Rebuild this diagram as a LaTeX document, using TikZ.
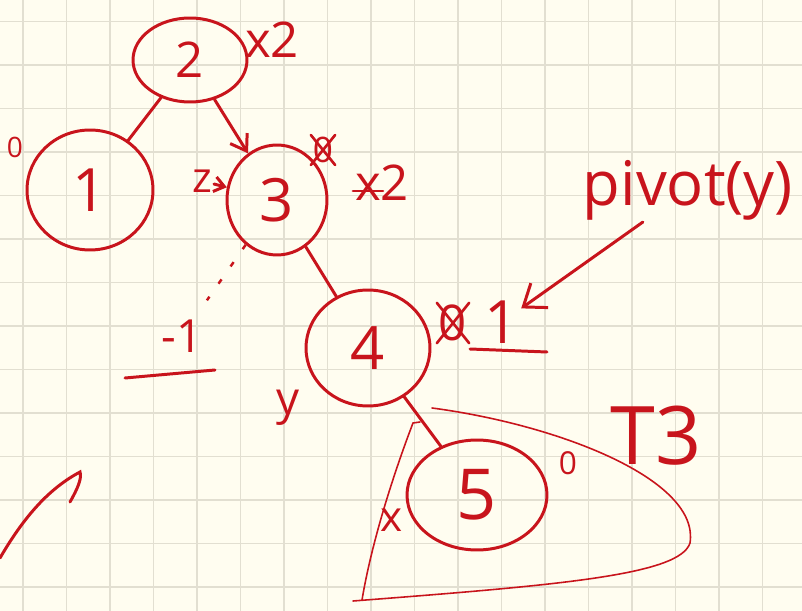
\documentclass[tikz,border=0pt]{standalone}
\usepackage{fontspec}
\setmainfont{Open Sans}
\usetikzlibrary{arrows.meta,shapes.geometric,calc}
\definecolor{ink}{HTML}{C8141C}
\definecolor{paper}{HTML}{FFFDF0}
\definecolor{gridline}{HTML}{E2DFD1}
\tikzset{
    every node/.style={text=ink},
    treevar/.style={ellipse,draw=ink,line width=1.7pt,inner sep=0pt,font=\fontsize{34}{34}\selectfont},
    scrawl/.style={inner sep=1pt,font=\fontsize{24}{24}\selectfont},
    inkedge/.style={draw=ink,line width=1.7pt,line cap=round},
    thinink/.style={draw=ink,line width=0.9pt,line cap=round},
    strike/.style={draw=ink,line width=1.5pt,line cap=round}
}
\begin{document}
\begin{tikzpicture}[x=0.02cm,y=-0.02cm]
\fill[paper] (0,0) rectangle (802,611);
\useasboundingbox (0,0) rectangle (802,611);
\foreach \k in {0,...,17}{
    \draw[gridline,line width=0.8pt] (23+43.5*\k,0) -- (23+43.5*\k,611);
}
\foreach \k in {0,...,13}{
    \draw[gridline,line width=0.8pt] (0,21.5+43.5*\k) -- (802,21.5+43.5*\k);
}
\node[treevar,minimum width=2.28cm,minimum height=1.68cm,font=\fontsize{28}{28}\selectfont] (n2) at (190,60) {2};
\node[treevar,minimum width=2.52cm,minimum height=2.4cm] (n1) at (90,190) {1};
\node[treevar,minimum width=2.0cm,minimum height=2.2cm] (n3) at (277,200) {3};
\node[treevar,minimum width=2.48cm,minimum height=2.32cm] (n4) at (368,348) {4};
\node[treevar,minimum width=2.8cm,minimum height=2.2cm,font=\fontsize{40}{40}\selectfont] (n5) at (477,495) {5};
\node[scrawl,font=\fontsize{28}{28}\selectfont] (w2) at (272,40) {x2};
\node[scrawl,font=\fontsize{16}{16}\selectfont] (w1) at (15,147) {0};
\node[scrawl,font=\fontsize{24}{24}\selectfont] (z3) at (202,181) {z};
\node[scrawl,font=\fontsize{20}{20}\selectfont] (o3) at (323,150) {0};
\node[scrawl,font=\fontsize{28}{28}\selectfont] (w3) at (382,183) {x2};
\node[scrawl,font=\fontsize{26}{26}\selectfont] (m1) at (182,336) {-1};
\node[scrawl,font=\fontsize{28}{28}\selectfont] (o4) at (453,323) {0};
\node[scrawl,font=\fontsize{34}{34}\selectfont] (w4) at (502,322) {1};
\node[scrawl,font=\fontsize{26}{26}\selectfont] (y4) at (288,408) {y};
\node[scrawl,font=\fontsize{24}{24}\selectfont] (x5) at (392,520) {x};
\node[scrawl,font=\fontsize{18}{18}\selectfont] (w5) at (568,463) {0};
\node[scrawl,font=\fontsize{46}{46}\selectfont] (t3) at (656,436) {T3};
\node[scrawl,font=\fontsize{35}{35}\selectfont] (pv) at (688,190) {pivot(y)};
\draw[inkedge] (n2) -- (n1);
\draw[inkedge,-{Straight Barb[length=3mm,width=4mm]}] (n2) -- (n3);
\draw[inkedge,-{Straight Barb[length=2mm,width=3mm]}] (z3) -- (n3);
\draw[inkedge] (n3) -- (n4);
\draw[inkedge] (n4) -- (n5);
\draw[ink,line width=1.4pt,dash pattern=on 3pt off 9pt,shorten >=12pt] (n3) -- (m1);
\draw[inkedge,-{Straight Barb[length=4mm,width=6mm]}] (pv) -- (w4);
\draw[strike] (o3.north west) -- (o3.south east);
\draw[strike] (o3.north east) -- (o3.south west);
\draw[strike] (o4.north west) -- (o4.south east);
\draw[strike] (o4.north east) -- (o4.south west);
\draw[strike] ($(w3.west)+(0,8)$) -- ++(30,0);
\draw[inkedge] (125,378) -- (215,370);
\draw[inkedge] (470,349) -- (547,352);
\draw[thinink] (432,408) .. controls (560,425) and (700,480) .. (690,543) .. controls (680,575) and (560,585) .. (353,601);
\draw[thinink] (362,600) .. controls (372,540) and (395,470) .. (413,423) -- (420,422);
\draw[inkedge] (0,558) .. controls (25,515) and (50,488) .. (80,472) .. controls (82,478) and (78,488) .. (70,502);
\end{tikzpicture}
\end{document}
